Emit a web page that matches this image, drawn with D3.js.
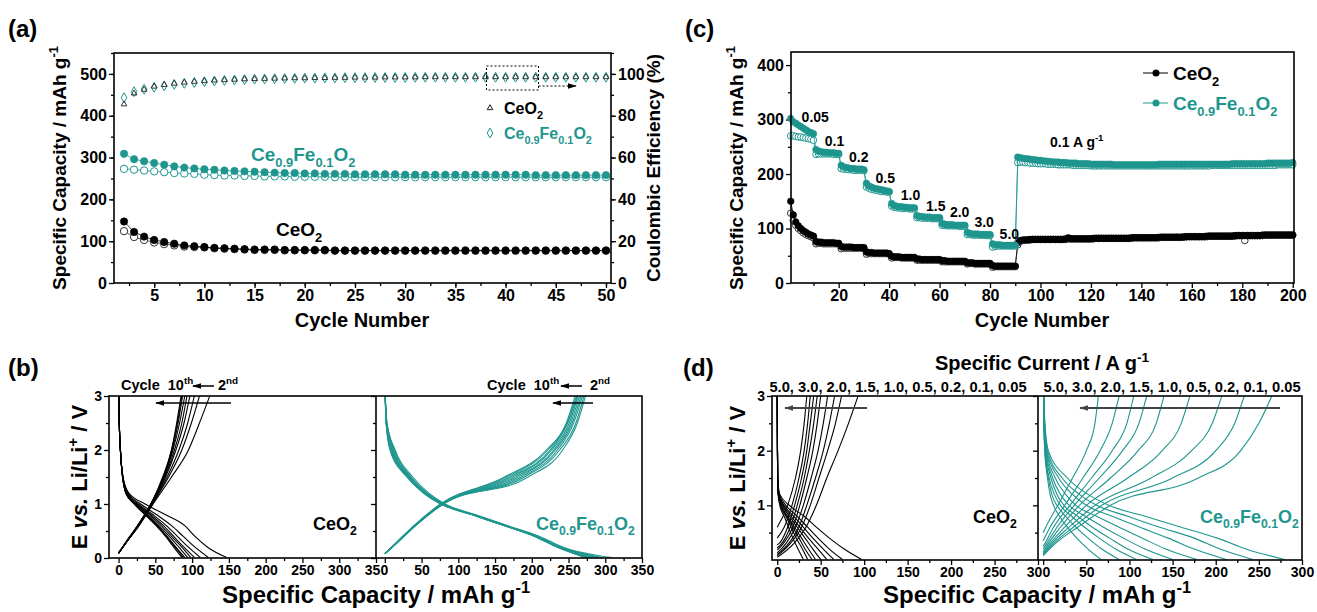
<!DOCTYPE html>
<meta charset="utf-8">
<html>
<head>
  <title>CeO2 vs Ce0.9Fe0.1O2 cycling</title>
  <script src="https://d3js.org/d3.v7.min.js"></script>
  <style>
    body{margin:0;background:#fff;}
    text{font-family:Arial,"Liberation Sans",sans-serif;font-weight:bold;white-space:pre;}
  </style>
</head>
<body>
<div id="fig"></div>
<script>
// ---------- data ----------
function nums(s){ return s.trim().split(/\s+/).map(Number); }

// (a) cycles 2..50
var aCycles = d3.range(2, 51);
var aCeDis = nums("147 122 111 103 98 94 90 88 86 84 83 82 81 80 80 80 79 79 79 79 79 78 78 78 78 78 78 78 78 78 78 78 78 78 78 78 78 78 78 78 78 78 78 78 78 78 78 78 78");
var aCeCha = nums("124 110 103 97 93 90 87 86 85 83 82 81 80 79 79 79 78 78 78 78 78 77 77 77 77 77 77 77 77 77 77 77 77 77 77 77 77 77 77 77 77 77 77 77 77 77 77 77 77");
var aFeDis = nums("309 296 291 287 283 279 276 274 272 271 269 268 267 266 265 264 263 263 262 262 261 261 261 260 260 260 260 260 259 259 259 259 259 259 259 259 259 259 259 259 259 258 258 258 258 258 258 258 258");
var aFeCha = nums("273 271 269 267 265 263 262 261 259 258 257 257 256 256 255 255 255 254 254 254 254 253 253 253 253 253 253 253 253 253 253 253 253 253 253 253 253 253 253 253 253 253 253 253 253 253 253 253 253");
var aCeCE = nums("85.5 90.7 92.5 94 94.8 95.4 95.9 96.3 96.6 96.9 97.1 97.3 97.5 97.6 97.7 97.8 97.9 98 98 98.1 98.1 98.2 98.2 98.3 98.3 98.3 98.4 98.4 98.4 98.4 98.5 98.5 98.5 98.5 98.5 98.5 98.5 98.5 98.5 98.5 98.5 98.5 98.5 98.5 98.5 98.5 98.5 98.5 98.5");
var aFeCE = nums("88.6 91.5 92.7 93.6 94.3 95 95.5 95.9 96.3 96.6 96.9 97.1 97.3 97.5 97.6 97.7 97.8 97.9 98 98 98.1 98.1 98.2 98.2 98.2 98.3 98.3 98.3 98.3 98.4 98.4 98.4 98.4 98.4 98.4 98.4 98.4 98.4 98.4 98.4 98.4 98.4 98.4 98.4 98.4 98.4 98.4 98.4 98.4");

// (c) rate test, cycles 1..200
var cCycles = d3.range(1, 201);
var cRates = ["0.05","0.1","0.2","0.5","1.0","1.5","2.0","3.0","5.0"];
var cFeDis = nums(
 "302 296 293 290 287 284 281 278 276 274 245 242 241 240 240 239 239 239 238 238 " +
 "216 213 212 211 210 210 209 209 209 208 183 178 176 174 173 172 171 170 169 168 " +
 "146 142 141 140 140 139 139 138 138 138 124 122 122 121 121 121 120 120 120 120 " +
 "109 108 107 107 107 106 106 106 106 106 93 91 90 90 90 89 89 89 89 89 " +
 "72 70 70 70 69 69 69 69 69 69 231 230 229 228 228 227 226 226 225 225 " +
 "224 224 223 223 222 222 222 221 221 221 220 220 220 220 219 219 219 219 219 218 " +
 "218 218 218 218 218 218 218 218 217 217 217 217 217 217 217 217 217 217 217 217 " +
 "217 217 217 217 217 217 218 218 218 218 218 218 218 218 218 218 218 218 218 218 " +
 "218 218 218 218 218 218 218 218 218 218 218 218 218 218 218 219 219 219 219 219 " +
 "219 219 219 219 219 219 219 219 219 220 220 220 220 220 220 220 220 220 220 221");
var cFeCha = nums(
 "270 270 269 268 268 267 266 265 264 262 236 237 237 237 237 237 237 236 236 236 " +
 "210 209 209 208 208 207 207 207 207 206 176 174 172 171 170 169 168 168 167 167 " +
 "141 139 138 138 137 137 137 136 136 136 120 120 119 119 119 119 118 118 118 118 " +
 "106 106 105 105 105 105 105 104 104 104 89 89 88 88 88 88 88 88 87 87 " +
 "66 67 68 68 68 68 68 68 68 68 221 222 222 221 221 220 220 220 219 219 " +
 "219 219 218 218 218 218 217 217 217 217 217 217 216 216 216 216 216 216 216 215 " +
 "215 215 215 215 215 215 215 215 215 215 215 215 215 215 215 215 215 215 215 215 " +
 "215 215 215 215 215 215 215 215 215 215 215 215 215 215 215 215 215 215 215 215 " +
 "215 215 215 215 215 215 215 216 216 216 216 216 216 216 216 216 216 216 216 216 " +
 "216 216 216 216 216 216 216 216 216 216 216 216 216 217 217 217 217 217 217 217");
var cCeDis = nums(
 "150 125 112 105 100 96 93 90 88 86 76 75 75 74 74 74 74 74 73 73 " +
 "67 66 66 66 66 65 65 65 65 65 57 56 56 55 55 55 55 55 55 54 " +
 "49 48 48 48 47 47 47 47 47 47 44 44 43 43 43 43 43 43 43 43 " +
 "41 41 40 40 40 40 40 40 40 40 37 37 37 36 36 36 36 36 36 36 " +
 "32 31 31 31 31 31 31 31 31 31 74 78 79 79 79 80 80 80 80 80 " +
 "80 80 80 80 80 80 80 80 80 81 83 81 81 81 81 81 81 81 81 81 " +
 "82 82 82 82 82 82 82 82 82 82 82 82 82 82 82 83 83 83 83 83 " +
 "83 83 83 83 83 83 84 84 84 84 84 84 84 84 84 84 85 85 85 85 " +
 "85 85 85 85 85 86 86 86 86 86 86 86 86 86 86 86 87 87 87 87 " +
 "87 87 87 87 87 87 87 88 88 88 88 88 88 88 88 88 88 88 88 88");
var cCeCha = nums(
 "128 115 106 100 96 92 89 87 85 83 72 73 73 72 72 72 72 72 72 72 " +
 "63 64 64 64 64 64 64 64 64 63 53 54 54 54 54 54 54 54 54 53 " +
 "46 47 47 47 46 46 46 46 46 46 42 42 42 42 42 42 42 42 42 42 " +
 "39 39 39 39 39 39 39 39 39 39 35 36 36 35 35 35 35 35 35 35 " +
 "29 30 30 30 30 30 30 30 30 30 70 77 78 79 79 79 80 80 80 80 " +
 "80 80 80 80 80 80 80 80 80 80 81 81 81 81 81 81 81 81 81 81 " +
 "81 82 82 82 82 82 82 82 82 82 82 82 82 82 82 82 83 83 83 83 " +
 "83 83 83 83 83 83 83 84 84 84 84 84 84 84 84 84 84 85 85 85 " +
 "85 85 85 85 85 85 86 86 86 86 86 86 86 86 86 86 86 87 87 87 " +
 "78 87 87 87 87 87 87 87 88 88 88 88 88 88 88 88 88 88 88 88");

// voltage grids for the profiles (b, d): capacity read at these potentials
var vDis = [3.0, 2.5, 2.0, 1.5, 1.2, 1.0, 0.8, 0.6, 0.4, 0.2, 0.01];
var vCha = [0.3, 0.6, 1.0, 1.5, 2.0, 2.5, 3.0];

// (b) cycles 2..10
var bCeDis = [
 [0.5,1,2.5,6,14,36,64,90,104,121,147],
 [0.5,1,2.5,6,13,30,52,72,88,104,122],
 [0.5,1,2.5,6,12,27,47,65,80,95,111],
 [0.5,1,2.5,5.5,11,25,44,61,75,89,103],
 [0.5,1,2.5,5.5,11,24,42,58,72,86,98],
 [0.5,1,2.5,5.5,11,23,40,55,69,82,94],
 [0.5,1,2.5,5.5,10,22,38,53,66,78,90],
 [0.5,1,2.5,5.5,10,22,37,52,65,77,88],
 [0.5,1,2.5,5.5,10,21,36,51,64,75,86]];
var bCeChaStart = [0.09,0.09,0.09,0.09,0.09,0.09,0.09,0.09,0.09];
var bCeCha = [
 [11,28,47,72,95,110,124],
 [11,27,46,68,86,99,110],
 [11,27,46,66,82,94,103],
 [11,27,45,64,78,89,97],
 [11,27,45,63,76,86,93],
 [11,26,44,62,74,83,90],
 [11,26,44,61,73,81,87],
 [11,26,44,61,72,80,86],
 [10,26,44,60,72,79,85]];
var bFeDis = [
 [0.5,3,14,38,60,82,124,167,211,243,309],
 [0.5,2.8,13,36,58,80,122,165,208,240,296],
 [0.5,2.6,12,35,57,79,121,164,207,239,291],
 [0.5,2.4,11,34,56,78,121,164,206,238,287],
 [0.5,2.2,10,33,55,78,120,163,206,237,283],
 [0.5,2,9,32,54,77,120,163,205,236,279],
 [0.5,1.9,8,31,54,77,120,162,205,236,276],
 [0.5,1.8,8,31,53,76,119,162,204,235,274],
 [0.5,1.7,7,30,53,76,119,162,204,235,272]];
var bFeChaStart = [0.08,0.08,0.08,0.08,0.08,0.08,0.08,0.08,0.08];
var bFeCha = [
 [18,42,80,195,242,262,273],
 [18,42,79,190,238,260,271],
 [18,41,79,186,235,257,269],
 [18,41,78,182,232,255,267],
 [17,41,78,178,230,253,265],
 [17,40,77,174,227,251,263],
 [17,40,77,170,225,249,262],
 [17,40,76,166,222,248,261],
 [17,40,76,163,220,247,259]];

// (d) one profile per rate, 0.05 ... 5.0 A/g
var dCeDis = [
 [0.1,0.2,0.3,0.5,3,14,31,45,60,77,97],
 [0.1,0.2,0.3,0.5,2.5,10,23,35,47,60,75],
 [0.1,0.2,0.3,0.5,2,8,19,30,41,53,65],
 [0.1,0.2,0.3,0.5,2,7,16,26,36,47,57],
 [0.1,0.2,0.3,0.5,1.5,6,14,23,32,41,50],
 [0.1,0.2,0.3,0.5,1.5,5,12,20,28,36,44],
 [0.1,0.2,0.3,0.5,1.2,4,11,18,25,32,40],
 [0.1,0.2,0.3,0.5,1.2,4,10,16,22,29,35],
 [0.1,0.2,0.3,0.5,1,3,8,13,18,24,30]];
var dCeChaStart = [0.05,0.08,0.1,0.13,0.18,0.22,0.28,0.4,0.6];
var dCeCha = [
 [19,33,45,57,70,82,93],
 [15,28,38,48,58,67,74],
 [13,25,34,44,53,60,66],
 [10,21,30,39,47,53,58],
 [7,18,26,34,41,46,50],
 [5,15,23,31,37,42,46],
 [2,12,20,28,34,38,42],
 [null,8,17,25,31,35,38],
 [null,null,12,21,27,31,34]];
var dFeDis = [
 [0.5,2,6,28,52,76,118,160,202,235,280],
 [0.5,1.8,5,22,42,62,98,135,175,205,243],
 [0.5,1.6,4,18,34,50,80,112,145,175,212],
 [0.5,1.4,3.5,14,26,38,62,88,115,142,178],
 [0.5,1.2,3,11,20,30,49,70,93,118,150],
 [0.5,1.1,2.5,9,16,24,40,57,77,98,127],
 [0.5,1,2.2,7,13,20,33,48,65,84,108],
 [0.5,0.9,2,6,10,16,26,38,52,68,88],
 [0.5,0.8,1.8,5,8,12,19,28,39,52,67]];
var dFeChaStart = [0.08,0.09,0.1,0.12,0.15,0.2,0.25,0.35,0.5];
var dFeCha = [
 [14,40,78,180,229,250,265],
 [12,35,68,150,200,222,233],
 [10,30,60,125,172,196,207],
 [8,25,50,98,138,160,170],
 [6,20,42,78,110,131,140],
 [4,16,36,65,92,111,120],
 [2,12,31,56,80,97,105],
 [null,8,25,46,66,80,88],
 [null,3,17,34,50,60,64]];

// ---------- setup ----------
var width=1317, height=612;
var teal="#1e968e";
var FE=["Ce","_0.9","Fe","_0.1","O","_2"], CE=["Ce","O","_2"];

var svg=d3.select("#fig").append("svg").attr("width",width).attr("height",height);
svg.append("rect").attr("width",width).attr("height",height).attr("fill","#fff");
var defs=svg.append("defs");

function arrowMarker(id,color){
  defs.append("marker").attr("id",id).attr("viewBox","0 0 10 10")
    .attr("refX",9).attr("refY",5).attr("markerWidth",9).attr("markerHeight",9)
    .attr("markerUnits","userSpaceOnUse").attr("orient","auto")
    .append("path").attr("d","M0,2 L10,5 L0,8 z").attr("fill",color);
}
arrowMarker("arK","#000");
arrowMarker("arG","#444");

function clip(id,x,y,w,h){
  defs.append("clipPath").attr("id",id).append("rect")
    .attr("x",x).attr("y",y).attr("width",w).attr("height",h);
}

// text with sub/superscripts: "_" sub, "^" sup, "~" italic
function rich(g,x,y,parts,size,color,rot,anchor){
  var t=g.append("text").attr("x",x).attr("y",y).attr("font-size",size)
    .attr("fill",color||"#000").attr("text-anchor",anchor||"start");
  if(rot) t.attr("transform","rotate("+rot+","+x+","+y+")");
  var shift=0;
  parts.forEach(function(p){
    var s=p, fs=size, off=0, it=null;
    if(p[0]=="_"){s=p.slice(1); fs=size*0.68; off=size*0.3;}
    else if(p[0]=="^"){s=p.slice(1); fs=size*0.68; off=-size*0.42;}
    else if(p[0]=="~"){s=p.slice(1); it="italic";}
    t.append("tspan").attr("dy",off-shift).attr("font-size",fs).attr("font-style",it).text(s);
    shift=off;
  });
  return t;
}

// major ticks with labels (fmt) + minor ticks, Origin style (outward)
function ticks(g,gen,scale,tr,major,minor,size,fmt){
  var m=g.append("g").attr("transform",tr)
    .call(gen(scale).tickValues(minor).tickSize(3).tickFormat(""));
  var M=g.append("g").attr("transform",tr)
    .call(gen(scale).tickValues(major).tickSize(5).tickPadding(2)
      .tickFormat(fmt||function(){return "";}));
  [m,M].forEach(function(s){
    s.select(".domain").remove();
    s.selectAll("line").attr("stroke","#000").attr("stroke-width",1.3);
    s.selectAll("text").attr("font-size",size).attr("fill","#000");
  });
}
var all=function(d){return d;};
var noZero=function(d){return d===0?"":d;};   // shared corner with the left panel

function frame(g,x0,y0,x1,y1){
  g.append("rect").attr("x",x0).attr("y",y0).attr("width",x1-x0).attr("height",y1-y0)
    .attr("fill","none").attr("stroke","#000").attr("stroke-width",1.6);
}

function sym(type,size){ return d3.symbol().type(type).size(size)(); }

// line + symbols of one series
function dotSeries(g,xs,ys,cyc,vals,kind,color,r){
  g.append("path").datum(vals)
    .attr("d",d3.line().x(function(d,i){return xs(cyc[i]);}).y(function(d){return ys(d);}))
    .attr("fill","none").attr("stroke",color).attr("stroke-width",0.8);
  g.selectAll(null).data(vals).enter().append("circle")
    .attr("cx",function(d,i){return xs(cyc[i]);}).attr("cy",function(d){return ys(d);})
    .attr("r",r)
    .attr("fill",kind=="fill"?color:"#fff")
    .attr("stroke",color).attr("stroke-width",kind=="fill"?0.6:1);
}

function profiles(g,xs,ys,dis,cha,chaStart,color,clipId){
  var line=d3.line().x(function(d){return xs(d[0]);}).y(function(d){return ys(d[1]);})
    .curve(d3.curveMonotoneX);
  var cg=g.append("g").attr("clip-path","url(#"+clipId+")");
  dis.forEach(function(c){
    var pts=vDis.map(function(v,i){return [c[i],v];});
    cg.append("path").attr("d",line(pts)).attr("fill","none")
      .attr("stroke",color).attr("stroke-width",1.1);
  });
  cha.forEach(function(c,k){
    var pts=[[0,chaStart[k]]];
    vCha.forEach(function(v,i){ if(c[i]!=null) pts.push([c[i],v]); });
    cg.append("path").attr("d",line(pts)).attr("fill","none")
      .attr("stroke",color).attr("stroke-width",1.1);
  });
}

function arrow(g,x1,x2,y,marker,color,w,dash){
  g.append("line").attr("x1",x1).attr("x2",x2).attr("y1",y).attr("y2",y)
    .attr("stroke",color).attr("stroke-width",w).attr("stroke-dasharray",dash||null)
    .attr("marker-end","url(#"+marker+")");
}

// ---------- (a) ----------
var gA=svg.append("g");
var xA=d3.scaleLinear().domain([1,50.5]).range([114,611]);
var yA=d3.scaleLinear().domain([0,550]).range([283,53]);
var yA2=d3.scaleLinear().domain([0,110]).range([283,53]);
ticks(gA,d3.axisBottom,xA,"translate(0,283)",d3.range(5,51,5),d3.range(2.5,50.6,2.5),16,all);
ticks(gA,d3.axisLeft,yA,"translate(114,0)",d3.range(0,501,100),d3.range(50,551,50),16,all);
ticks(gA,d3.axisRight,yA2,"translate(611,0)",d3.range(0,101,20),d3.range(10,111,10),16,all);

// coulombic efficiency
gA.selectAll(null).data(aFeCE).enter().append("path")
  .attr("d",sym(d3.symbolDiamond,28))
  .attr("transform",function(d,i){return "translate("+xA(aCycles[i])+","+yA2(d)+")";})
  .attr("fill","none").attr("stroke",teal).attr("stroke-width",1);
gA.selectAll(null).data(aCeCE).enter().append("path")
  .attr("d",sym(d3.symbolTriangle,14))
  .attr("transform",function(d,i){return "translate("+xA(aCycles[i])+","+yA2(d)+")";})
  .attr("fill","none").attr("stroke","#222").attr("stroke-width",0.9);

dotSeries(gA,xA,yA,aCycles,aCeCha,"open","#333",3.7);
dotSeries(gA,xA,yA,aCycles,aCeDis,"fill","#000",3.7);
dotSeries(gA,xA,yA,aCycles,aFeCha,"open",teal,3.7);
dotSeries(gA,xA,yA,aCycles,aFeDis,"fill",teal,3.7);
frame(gA,114,53,611,283);

// zoom box + arrow, legend, labels
gA.append("rect").attr("x",486.5).attr("y",66).attr("width",52).attr("height",24)
  .attr("fill","none").attr("stroke","#000").attr("stroke-width",1).attr("stroke-dasharray","2,2");
arrow(gA,538.5,576,86,"arK","#000",1,"2,2");
gA.append("path").attr("d",sym(d3.symbolTriangle,14)).attr("transform","translate(490,108)")
  .attr("fill","none").attr("stroke","#222");
rich(gA,504,114,CE,16,"#000");
gA.append("path").attr("d",sym(d3.symbolDiamond,28)).attr("transform","translate(490,133)")
  .attr("fill","none").attr("stroke",teal);
rich(gA,504,139,FE,16,teal);
rich(gA,251,161,FE,19,teal);
rich(gA,276,236,CE,19,"#000");

rich(gA,8,37,["(a)"],24,"#000");
rich(gA,66,168,["Specific Capacity / mAh g","^-1"],19,"#000",-90,"middle");
rich(gA,660,168,["Coulombic Efficiency (%)"],19,"#000",-90,"middle");
rich(gA,362,327,["Cycle Number"],20,"#000",0,"middle");

// ---------- (c) ----------
var gC=svg.append("g");
var xC=d3.scaleLinear().domain([1.1,200.5]).range([791,1294]);
var yC=d3.scaleLinear().domain([0,424]).range([283,52]);
ticks(gC,d3.axisBottom,xC,"translate(0,283)",d3.range(20,201,20),d3.range(10,200,20),16,all);
ticks(gC,d3.axisLeft,yC,"translate(791,0)",d3.range(0,401,100),d3.range(50,400,100),16,all);
dotSeries(gC,xC,yC,cCycles,cCeCha,"open","#333",3.3);
dotSeries(gC,xC,yC,cCycles,cCeDis,"fill","#000",3.3);
dotSeries(gC,xC,yC,cCycles,cFeCha,"open",teal,3.3);
dotSeries(gC,xC,yC,cCycles,cFeDis,"fill",teal,3.3);
frame(gC,791,52,1294,283);

// rate labels, placed at (cycle, capacity)
var cLblAt=[[5.3,295],[14.5,251],[24.1,222],[34.6,183],[44.6,152],[54.6,132],[64.1,121],[73.8,103],[83.8,81]];
cRates.forEach(function(r,i){ rich(gC,xC(cLblAt[i][0]),yC(cLblAt[i][1]),[r],14,"#000"); });
rich(gC,xC(103.8),yC(250),["0.1 A g","^-1"],14,"#000");

// legend
[[73,"#000",CE],[103,teal,FE]].forEach(function(l){
  gC.append("line").attr("x1",1143).attr("x2",1168).attr("y1",l[0]).attr("y2",l[0])
    .attr("stroke",l[1]).attr("stroke-width",1);
  gC.append("circle").attr("cx",1156).attr("cy",l[0]).attr("r",3.5).attr("fill",l[1]);
  rich(gC,1173,l[0]+7,l[2],19,l[1]);
});

rich(gC,685,37,["(c)"],24,"#000");
rich(gC,743,168,["Specific Capacity / mAh g","^-1"],19,"#000",-90,"middle");
rich(gC,1042,327,["Cycle Number"],20,"#000",0,"middle");

// ---------- (b) ----------
var gB=svg.append("g");
var yB=d3.scaleLinear().domain([0,3]).range([558,396]);
var xB1=d3.scaleLinear().domain([-13,350]).range([109,376]);
var xB2=d3.scaleLinear().domain([-12,350]).range([376,642]);
clip("cB1",109,396,267,162); clip("cB2",376,396,266,162);
profiles(gB,xB1,yB,bCeDis,bCeCha,bCeChaStart,"#000","cB1");
profiles(gB,xB2,yB,bFeDis,bFeCha,bFeChaStart,teal,"cB2");
ticks(gB,d3.axisBottom,xB1,"translate(0,558)",d3.range(0,351,50),d3.range(25,350,50),14,all);
ticks(gB,d3.axisBottom,xB2,"translate(0,558)",d3.range(0,351,50),d3.range(25,350,50),14,noZero);
ticks(gB,d3.axisLeft,yB,"translate(109,0)",[0,1,2,3],[0.5,1.5,2.5],14,all);
ticks(gB,d3.axisLeft,yB,"translate(376,0)",[0,1,2,3],[0.5,1.5,2.5],14,null);
frame(gB,109,396,642,558);
gB.append("line").attr("x1",376).attr("x2",376).attr("y1",396).attr("y2",558)
  .attr("stroke","#000").attr("stroke-width",1.6);

[[121,168,214,193,218],[487,534,582,561,590]].forEach(function(p){
  rich(gB,p[0],390,["Cycle  10","^th"],14.5,"#000");
  arrow(gB,p[2],p[3],386,"arK","#000",1.5);
  rich(gB,p[4],390,["2","^nd"],14.5,"#000");
});
arrow(gB,231,156,403,"arK","#000",1.5);
arrow(gB,593,553,403,"arK","#000",1.5);
rich(gB,313,530,CE,18,"#000");
rich(gB,536,530,FE,18,teal);

rich(gB,8,376,["(b)"],24,"#000");
rich(gB,87,477,["E ","~vs.", " Li/Li","^+"," / V"],22,"#000",-90,"middle");
rich(gB,376,603,["Specific Capacity / mAh g","^-1"],24,"#000",0,"middle");

// ---------- (d) ----------
var gD=svg.append("g");
var yD=d3.scaleLinear().domain([0,3]).range([560,396]);
var xD1=d3.scaleLinear().domain([-6,300]).range([772,1038]);
var xD2=d3.scaleLinear().domain([-6,300]).range([1038,1302]);
clip("cD1",772,396,266,164); clip("cD2",1038,396,264,164);
profiles(gD,xD1,yD,dCeDis,dCeCha,dCeChaStart,"#000","cD1");
profiles(gD,xD2,yD,dFeDis,dFeCha,dFeChaStart,teal,"cD2");
ticks(gD,d3.axisBottom,xD1,"translate(0,560)",d3.range(0,301,50),d3.range(25,300,50),14,all);
ticks(gD,d3.axisBottom,xD2,"translate(0,560)",d3.range(0,301,50),d3.range(25,300,50),14,noZero);
ticks(gD,d3.axisLeft,yD,"translate(772,0)",[1,2,3],[0.5,1.5,2.5],14,all);
ticks(gD,d3.axisLeft,yD,"translate(1038,0)",[1,2,3],[0.5,1.5,2.5],14,null);
frame(gD,772,396,1302,560);
gD.append("line").attr("x1",1038).attr("x2",1038).attr("y1",396).attr("y2",560)
  .attr("stroke","#000").attr("stroke-width",1.6);

var rateList=cRates.slice().reverse().join(", ");
rich(gD,898,392,[rateList],14.7,"#000",0,"middle");
rich(gD,1172,392,[rateList],14.7,"#000",0,"middle");
arrow(gD,867,785,408,"arG","#444",2);
arrow(gD,1280,1080,408,"arG","#444",2);
rich(gD,973,523,CE,18,"#000");
rich(gD,1200,523,FE,18,teal);

rich(gD,683,376,["(d)"],24,"#000");
rich(gD,745,478,["E ","~vs.", " Li/Li","^+"," / V"],22,"#000",-90,"middle");
rich(gD,1042,370,["Specific Current / A g","^-1"],20,"#000",0,"middle");
rich(gD,1037,603,["Specific Capacity / mAh g","^-1"],24,"#000",0,"middle");
</script>
</body>
</html>
